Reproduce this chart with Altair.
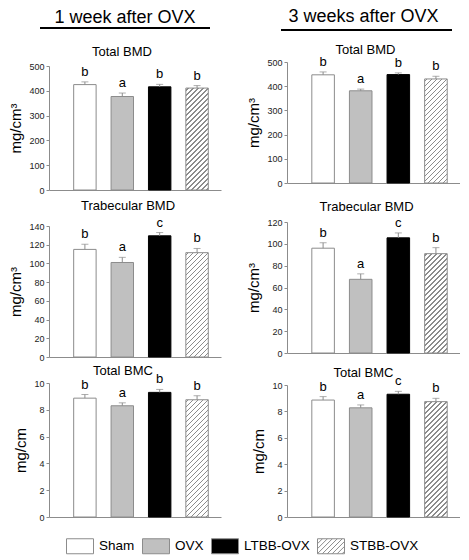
import math
import altair as alt
import pandas as pd

# ---------------- data ----------------
groups = ["Sham", "OVX", "LTBB-OVX", "STBB-OVX"]
bar_fill = ["white", "#c0c0c0", "black", "white"]
bar_stroke = ["#8c8c8c", "#8c8c8c", "black", "#8c8c8c"]

bmd_1w = [425, 377, 416, 411]
bmd_1w_err = [11, 14, 10, 10]
bmd_1w_sig = ["b", "a", "b", "b"]

trab_1w = [115, 101, 129.5, 111.5]
trab_1w_err = [5.5, 5.5, 3.5, 4.5]
trab_1w_sig = ["b", "a", "c", "b"]

bmc_1w = [8.87, 8.3, 9.3, 8.75]
bmc_1w_err = [0.27, 0.22, 0.22, 0.3]
bmc_1w_sig = ["b", "a", "b", "b"]

bmd_3w = [447, 381, 448, 430]
bmd_3w_err = [12, 7, 7, 11]
bmd_3w_sig = ["b", "a", "b", "b"]

trab_3w = [96, 67.5, 105.5, 91]
trab_3w_err = [5, 5, 4.5, 5.5]
trab_3w_sig = ["b", "a", "c", "b"]

bmc_3w = [8.86, 8.27, 9.3, 8.74]
bmc_3w_err = [0.26, 0.22, 0.22, 0.25]
bmc_3w_sig = ["b", "a", "c", "b"]

ticks_bmd = [0, 100, 200, 300, 400, 500]
ticks_trab_1w = [0, 20, 40, 60, 80, 100, 120, 140]
ticks_trab_3w = [0, 20, 40, 60, 80, 100, 120]
ticks_bmc = [0, 2, 4, 6, 8, 10]

headers = ["1 week after OVX", "3 weeks after OVX"]
panel_titles = ["Total BMD", "Trabecular BMD", "Total BMC"]
unit_bmd = "mg/cm³"
unit_bmc = "mg/cm"

# ---------------- style ----------------
FONT = "Liberation Sans"
GREY = "#8c8c8c"
P_IN, P_OUT, ALIGN = 0.4, 0.5, 0.66
WL, WR = 172, 173


def rect_path(hw=1.8, hh=1.0):
    return f"M{-hw},{-hh}L{hw},{-hh}L{hw},{hh}L{-hw},{hh}Z"


def hatch_path(hw=1.8, hh=1.0, step=0.66):
    d = rect_path(hw, hh)
    c = -hw - hh + step
    while c < hw + hh - 1e-6:
        xa = max(-hw, c - hh)
        xb = min(hw, c + hh)
        d += f"M{xa:.3f},{c - xa:.3f}L{xb:.3f},{c - xb:.3f}"
        c += step
    return d


legend_shapes = [rect_path(), rect_path(), rect_path(), hatch_path()]


def hatch_gradient(w, h, period=5.0, lw=1.2, color=GREY):
    L = w + h
    k = L / (w * w + h * h)
    half = lw * math.sqrt(2) / 2 / L
    stops = [{"offset": 0, "color": "white"}]
    j = 0
    while True:
        c = (j + 0.5) * period / L
        if c + half >= 1:
            break
        a, b = round(c - half, 5), round(c + half, 5)
        stops += [
            {"offset": a, "color": "white"},
            {"offset": a, "color": color},
            {"offset": b, "color": color},
            {"offset": b, "color": "white"},
        ]
        j += 1
    stops.append({"offset": 1, "color": "white"})
    return {"gradient": "linear", "x1": 0, "y1": 0, "x2": k * w, "y2": k * h, "stops": stops}


def panel(title, vals, errs, sigs, ticks, ytitle, width, height, tdx, toff, with_legend=False):
    df = pd.DataFrame({"group": groups, "value": vals, "err": errs, "sig": sigs,
                       "fill": bar_fill, "stroke": bar_stroke})
    df["top"] = df["value"] + df["err"]
    ymax = ticks[-1]
    xenc = alt.X("group:N",
                 scale=alt.Scale(domain=groups, paddingInner=P_IN, paddingOuter=P_OUT, align=ALIGN),
                 axis=alt.Axis(title=None, labels=False, ticks=False, domain=True,
                               domainColor=GREY, domainWidth=1, grid=False))
    yaxis = alt.Axis(values=ticks, title=ytitle, grid=False,
                     titleFont=FONT, titleFontSize=15, titleFontWeight="normal", titleColor="black",
                     titlePadding=5,
                     labelFont=FONT, labelFontSize=9, labelColor="#222", labelPadding=2,
                     tickSize=3, tickColor=GREY, domainColor=GREY, domainWidth=1)
    yscale = alt.Scale(domain=[0, ymax], nice=False)

    def Y(f):
        return alt.Y(f + ":Q", scale=yscale, axis=yaxis)

    base = alt.Chart(df).encode(x=xenc)
    plain = base.transform_filter(alt.datum.group != "STBB-OVX").mark_bar(strokeWidth=1).encode(
        y=Y("value"),
        fill=alt.Fill("fill:N", scale=None),
        stroke=alt.Stroke("stroke:N", scale=None),
    )
    step = width / (4 - P_IN + 2 * P_OUT)
    bw = step * (1 - P_IN)
    bh = vals[3] / ymax * height
    hatched = base.transform_filter(alt.datum.group == "STBB-OVX").mark_bar(
        fill=hatch_gradient(bw, bh), stroke=GREY, strokeWidth=1
    ).encode(y=Y("value"))
    err = base.mark_rule(color=GREY, strokeWidth=1).encode(y=Y("value"), y2=alt.Y2("top"))
    cap = base.mark_tick(color=GREY, thickness=1, size=7).encode(y=Y("top"))
    sig = base.mark_text(font=FONT, fontSize=13, color="black", baseline="alphabetic", dy=-6).encode(
        y=Y("top"), text="sig:N")
    layers = [plain, hatched, err, cap, sig]
    if with_legend:
        lg = alt.Legend(orient="none", legendX=23, legendY=510, direction="horizontal", title=None,
                        labelFont=FONT, labelFontSize=13.5, labelColor="black", labelOffset=11,
                        columnPadding=5, symbolSize=225,
                        symbolStrokeWidth=1, symbolOpacity=1, padding=0, labelLimit=300)
        pts = alt.Chart(df).mark_point(filled=True, opacity=0, stroke=GREY, strokeWidth=1).encode(
            color=alt.Color("group:N", scale=alt.Scale(domain=groups, range=bar_fill), legend=lg),
            shape=alt.Shape("group:N", scale=alt.Scale(domain=groups, range=legend_shapes), legend=lg),
        )
        layers.append(pts)
    return alt.layer(*layers).properties(
        width=width, height=height,
        title=alt.TitleParams(title, font=FONT, fontSize=13, fontWeight="normal", color="black",
                              anchor="middle", frame="group", dx=tdx, offset=toff),
    )


def header(text, width, rx1, rx2, ry, tdx, toff):
    return alt.Chart(pd.DataFrame({"h": [text]})).mark_rule(color="black", strokeWidth=2).encode(
        x=alt.value(rx1), x2=alt.value(rx2), y=alt.value(ry)
    ).properties(
        width=width, height=1,
        title=alt.TitleParams(text, font=FONT, fontSize=18, fontWeight="normal", color="black",
                              anchor="middle", frame="group", dx=tdx, offset=toff),
    )


def spacer(width, gap):
    return alt.Chart(pd.DataFrame({"s": [0]})).mark_point(opacity=0).properties(width=width, height=gap)


hL = header(headers[0], WL, -9, 161, 0, -10, 0)
hR = header(headers[1], WR, -6, 165, 2, -10, 2)

p1L = panel(panel_titles[0], bmd_1w, bmd_1w_err, bmd_1w_sig, ticks_bmd, unit_bmd, WL, 124, -13, 3)
p2L = panel(panel_titles[1], trab_1w, trab_1w_err, trab_1w_sig, ticks_trab_1w, unit_bmd, WL, 131, -7, 4)
p3L = panel(panel_titles[2], bmc_1w, bmc_1w_err, bmc_1w_sig, ticks_bmc, unit_bmc, WL, 134, -12, -5,
            with_legend=True)

p1R = panel(panel_titles[0], bmd_3w, bmd_3w_err, bmd_3w_sig, ticks_bmd, unit_bmd, WR, 121, -8, -1)
p2R = panel(panel_titles[1], trab_3w, trab_3w_err, trab_3w_sig, ticks_trab_3w, unit_bmd, WR, 131, -7, 3)
p3R = panel(panel_titles[2], bmc_3w, bmc_3w_err, bmc_3w_sig, ticks_bmc, unit_bmc, WR, 132, -10, -4.5)

colL = alt.vconcat(hL, spacer(WL, 37), p1L, spacer(WL, 36), p2L, spacer(WL, 26), p3L,
                   spacing=0, bounds="flush")
colR = alt.vconcat(hR, spacer(WR, 33), p1R, spacer(WR, 39), p2R, spacer(WR, 32), p3R,
                   spacing=0, bounds="flush")

chart = alt.hconcat(colL, colR, spacing=25).properties(
    padding=0
).configure_view(stroke=None)

chart.save("out.html", embed_options={"renderer": "svg", "actions": False})
